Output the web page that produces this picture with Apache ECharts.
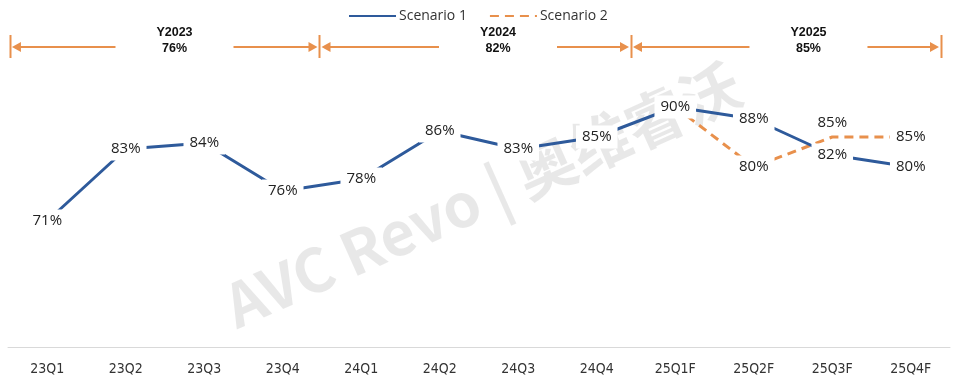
<!DOCTYPE html>
<html>
<head>
<meta charset="utf-8">
<script src="https://cdn.jsdelivr.net/npm/echarts@6/dist/echarts.min.js"></script>
<style>html,body{margin:0;padding:0;background:#fff}#c{width:965px;height:390px}</style>
</head>
<body>
<div id="c"></div>
<script>
var categories = ['23Q1','23Q2','23Q3','23Q4','24Q1','24Q2','24Q3','24Q4','25Q1F','25Q2F','25Q3F','25Q4F'];
var scenario1 = [71,83,84,76,78,86,83,85,90,88,82,80];
var scenario2 = [null,null,null,null,null,null,null,null,90,80,85,85];
var yearNames = ['Y2023','Y2024','Y2025'];
var yearValues = ['76%','82%','85%'];
// annotation spans, in category-band units along the axis
var yearBars = [0.025, 3.968, 7.936, 11.885];
var yearTextPos = [2.121, 6.242, 10.197];

var BLUE = '#2E5A9B', ORANGE = '#E8904C';
var chart = echarts.init(document.getElementById('c'));
var labelFont = {fontFamily:'Open Sans', fontSize:15, color:'#222'};

var option = {
  animation:false,
  backgroundColor:'#fff',
  legend:{
    top:4, left:343, itemWidth:47, itemHeight:14, itemGap:22,
    textStyle:{fontFamily:'Open Sans', fontSize:14, color:'#333', padding:[0,0,0,-2]},
    data:['Scenario 1','Scenario 2']
  },
  grid:{left:8, right:15, top:47, bottom:43},
  xAxis:[{
    type:'category', data:categories, boundaryGap:true,
    axisLine:{lineStyle:{color:'#d9d9d9', width:1}},
    axisTick:{show:false},
    axisLabel:{fontFamily:'DejaVu Sans Condensed, sans-serif', fontSize:14, color:'#333', margin:15}
  },{
    type:'value', min:0, max:12, show:false
  }],
  yAxis:{type:'value', min:50, max:100, show:false, splitLine:{show:false}},
  graphic:[{
    type:'text', left:'center', top:'middle', z:0, rotation:0.42,
    x:-10, y:10,
    style:{text:'AVC Revo | 奥维睿沃', font:'bold 60px "Noto Sans CJK SC", sans-serif', fill:'rgba(0,0,0,0.09)'}
  }],
  series:[{
    name:'Scenario 1', type:'line', data:scenario1, symbol:'circle', symbolSize:1, showSymbol:true, z:3,
    lineStyle:{color:BLUE, width:3}, itemStyle:{color:'rgba(0,0,0,0)'},
    label:{show:true, position:'inside', formatter:'{c}%', backgroundColor:'#fff', padding:[4,6],
      fontFamily:labelFont.fontFamily, fontSize:labelFont.fontSize, color:labelFont.color}
  },{
    name:'Scenario 2', type:'line', symbol:'circle', symbolSize:1, showSymbol:true, z:2,
    lineStyle:{color:ORANGE, width:3, type:[9,6]}, itemStyle:{color:'rgba(0,0,0,0)'},
    data:scenario2.map(function(v,i){
      if (v === null) return v;
      var lab = {show:true, position:'inside'};
      if (i === 8) lab = {show:false};
      if (i === 10) lab = {show:true, position:'top', distance:2, backgroundColor:'transparent'};
      return {value:v, label:lab};
    }),
    label:{show:true, formatter:'{c}%', backgroundColor:'#fff', padding:[4,6],
      fontFamily:labelFont.fontFamily, fontSize:labelFont.fontSize, color:labelFont.color}
  }]
};
chart.setOption(option);

// year annotations: arrows along the top edge of the grid
var rowY = chart.convertToPixel({yAxisIndex:0}, 100);
var px = function(v){ return chart.convertToPixel({xAxisIndex:1}, v); };
var g = option.graphic.slice();
var ls = {stroke:ORANGE, lineWidth:2};
yearBars.forEach(function(b){
  var x = Math.round(px(b)) + 0.5;
  g.push({type:'line', shape:{x1:x, y1:rowY-12, x2:x, y2:rowY+11}, style:ls, z:5});
});
var gapHalf = 59;
yearNames.forEach(function(n,i){
  var l = px(yearBars[i]) + 2, r = px(yearBars[i+1]) - 2, c = px(yearTextPos[i]);
  g.push({type:'line', shape:{x1:l+8, y1:rowY, x2:c-gapHalf, y2:rowY}, style:ls, z:5});
  g.push({type:'polygon', shape:{points:[[l,rowY],[l+9,rowY-5],[l+9,rowY+5]]}, style:{fill:ORANGE}, z:5});
  g.push({type:'line', shape:{x1:c+gapHalf, y1:rowY, x2:r-8, y2:rowY}, style:ls, z:5});
  g.push({type:'polygon', shape:{points:[[r,rowY],[r-9,rowY-5],[r-9,rowY+5]]}, style:{fill:ORANGE}, z:5});
  g.push({type:'text', x:c, y:rowY-6, z:5, style:{text:n+'\n'+yearValues[i], textAlign:'center', textVerticalAlign:'middle',
    font:'bold 12.5px "Liberation Sans", Arial, sans-serif', lineHeight:16, fill:'#111'}});
});
chart.setOption({graphic:g}, {replaceMerge:['graphic']});
</script>
</body>
</html>
